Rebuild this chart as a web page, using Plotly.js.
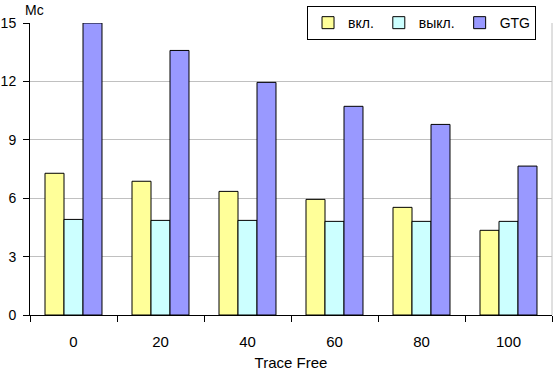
<!DOCTYPE html>
<html>
<head>
<meta charset="utf-8">
<script src="https://cdn.plot.ly/plotly-3.0.1.min.js"></script>
<style>html,body{margin:0;padding:0;background:#fff;}#chart{width:553px;height:371px;}</style>
</head>
<body>
<div id="chart"></div>
<script>
var categories = ["0", "20", "40", "60", "80", "100"];
var seriesNames = ["вкл.", "выкл.", "GTG"];
var vklValues = [7.28, 6.87, 6.35, 5.94, 5.53, 4.35];
var vyklValues = [4.91, 4.86, 4.86, 4.81, 4.81, 4.81];
var gtgValues = [15.0, 13.59, 11.95, 10.72, 9.79, 7.65];
var yTicks = [0, 3, 6, 9, 12, 15];
var colors = ["#FFFF99", "#CCFFFF", "#9999FF"];

var font = {family: "Liberation Sans, Arial, sans-serif", size: 15, color: "#000"};
var smallFont = {family: "Liberation Sans, Arial, sans-serif", size: 14, color: "#000"};
var allValues = [vklValues, vyklValues, gtgValues];
var traces = allValues.map(function (vals, i) {
  return {
    type: "bar",
    name: seriesNames[i],
    x: categories,
    y: vals,
    marker: {color: colors[i], line: {color: "#000", width: 1}},
    hoverinfo: "skip"
  };
});

var layout = {
  width: 553, height: 371,
  margin: {l: 30, r: 1, t: 23, b: 56},
  paper_bgcolor: "#fff", plot_bgcolor: "#fff",
  font: font,
  barmode: "group",
  bargap: 0.345,
  bargroupgap: 0,
  showlegend: true,
  legend: {
    orientation: "h",
    x: 0.5307, y: 1.058, xanchor: "left", yanchor: "top",
    bgcolor: "#fff", bordercolor: "#000", borderwidth: 1,
    font: smallFont,
    traceorder: "normal"
  },
  xaxis: {
    type: "category",
    showline: true, linecolor: "#000", linewidth: 1,
    ticks: "outside", tickson: "boundaries", ticklen: 6, tickcolor: "#000",
    ticklabelstandoff: 13,
    showgrid: false, zeroline: false,
    title: {text: "Trace Free", font: font, standoff: 11}
  },
  yaxis: {
    range: [0, 15],
    tickvals: yTicks,
    ticktext: yTicks.map(String),
    tickfont: smallFont,
    showline: true, linecolor: "#000", linewidth: 1,
    ticks: "outside", ticklen: 6, tickcolor: "#000",
    ticklabelstandoff: 4,
    showgrid: true, gridcolor: "#C0C0C0", gridwidth: 1,
    zeroline: false
  },
  shapes: [
    {type: "line", xref: "paper", yref: "paper", x0: 1, x1: 1, y0: 0, y1: 1,
     line: {color: "#C0C0C0", width: 1}, layer: "below"}
  ],
  annotations: [
    {text: "Мс", xref: "paper", yref: "paper", x: -0.0134, y: 1.0788,
     xanchor: "left", yanchor: "top", showarrow: false, font: smallFont}
  ]
};

Plotly.newPlot("chart", traces, layout, {displayModeBar: false, staticPlot: true});
</script>
</body>
</html>
